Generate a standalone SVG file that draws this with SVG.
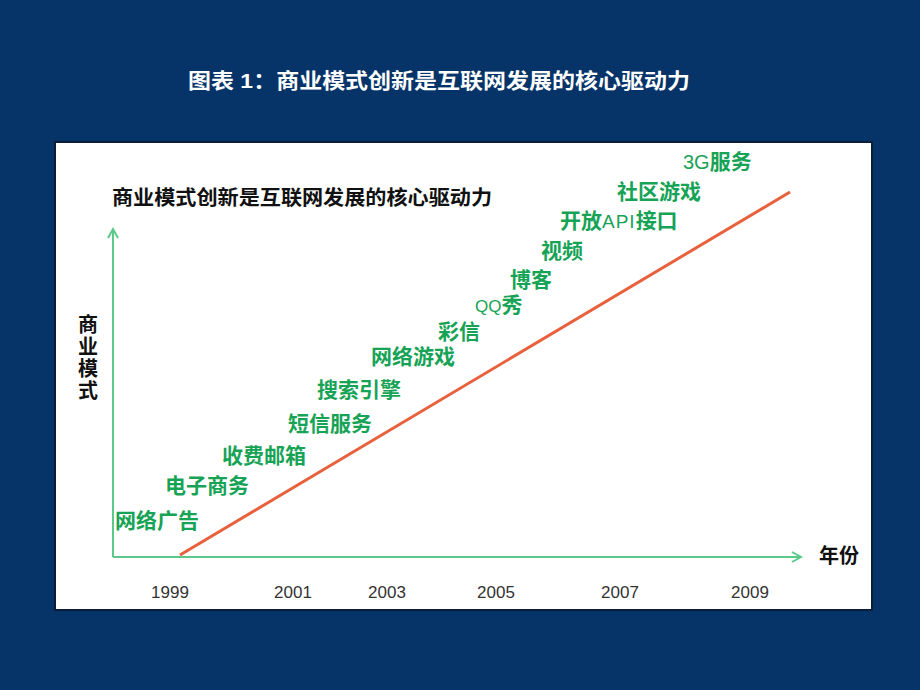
<svg xmlns="http://www.w3.org/2000/svg" width="920" height="690" viewBox="0 0 920 690">
<defs>
<style>
.cjk{font-family:"Liberation Sans","Noto Sans CJK SC",sans-serif;}
.lbl{font-family:"Liberation Sans","Noto Sans CJK SC",sans-serif;font-size:21px;font-weight:bold;fill:#17a356;}
.thin{font-weight:normal;}
.yr{font-family:"Liberation Sans",Arial,sans-serif;font-size:17px;fill:#333333;text-anchor:middle;}
.ax{stroke:#5cc98a;stroke-width:2;fill:none;}
</style>
</defs>
<rect x="0" y="0" width="920" height="690" fill="#063468"/>
<text class="cjk" x="439" y="88" font-size="21" font-weight="bold" fill="#ffffff" text-anchor="middle" textLength="502" lengthAdjust="spacingAndGlyphs">图表 1：商业模式创新是互联网发展的核心驱动力</text>
<rect x="55" y="142" width="817" height="468" fill="#ffffff" stroke="#0a1e3a" stroke-width="2"/>
<g id="chart-title"><text class="cjk" x="112" y="205" font-size="20" font-weight="bold" fill="#111111" textLength="380" lengthAdjust="spacingAndGlyphs">商业模式创新是互联网发展的核心驱动力</text></g>
<g id="connectors">
<path class="ax" d="M113 557 V230"/>
<path class="ax" d="M108 238 L113 229 L118 238"/>
<path class="ax" d="M113 557 H800"/>
<path class="ax" d="M792 552 L801 557 L792 562"/>
<line x1="180" y1="555" x2="790" y2="192" stroke="#e8603c" stroke-width="3"/>
</g>
<g id="y-label" class="cjk" font-size="20" font-weight="bold" fill="#111111" text-anchor="middle">
<text x="88" y="332">商</text><text x="88" y="354">业</text><text x="88" y="376">模</text><text x="88" y="398">式</text>
</g>
<g id="x-label"><text class="cjk" x="819" y="563" font-size="20" font-weight="bold" fill="#111111">年份</text></g>
<g id="years">
<text class="yr" x="170" y="598">1999</text>
<text class="yr" x="293" y="598">2001</text>
<text class="yr" x="387" y="598">2003</text>
<text class="yr" x="496" y="598">2005</text>
<text class="yr" x="620" y="598">2007</text>
<text class="yr" x="750" y="598">2009</text>
</g>
<g id="n1"><text class="lbl" x="115" y="528">网络广告</text></g>
<g id="n2"><text class="lbl" x="165" y="493">电子商务</text></g>
<g id="n3"><text class="lbl" x="222" y="463">收费邮箱</text></g>
<g id="n4"><text class="lbl" x="288" y="431">短信服务</text></g>
<g id="n5"><text class="lbl" x="317" y="397">搜索引擎</text></g>
<g id="n6"><text class="lbl" x="371" y="364">网络游戏</text></g>
<g id="n7"><text class="lbl" x="438" y="339">彩信</text></g>
<g id="n8"><text class="lbl" x="475" y="312"><tspan class="thin" font-size="17">QQ</tspan>秀</text></g>
<g id="n9"><text class="lbl" x="510" y="287">博客</text></g>
<g id="n10"><text class="lbl" x="541" y="258">视频</text></g>
<g id="n11"><text class="lbl" x="560" y="228">开放<tspan class="thin" font-size="19" letter-spacing="1">API</tspan>接口</text></g>
<g id="n12"><text class="lbl" x="617" y="199">社区游戏</text></g>
<g id="n13"><text class="lbl" x="683" y="169"><tspan class="thin" font-size="20">3G</tspan>服务</text></g>
</svg>
